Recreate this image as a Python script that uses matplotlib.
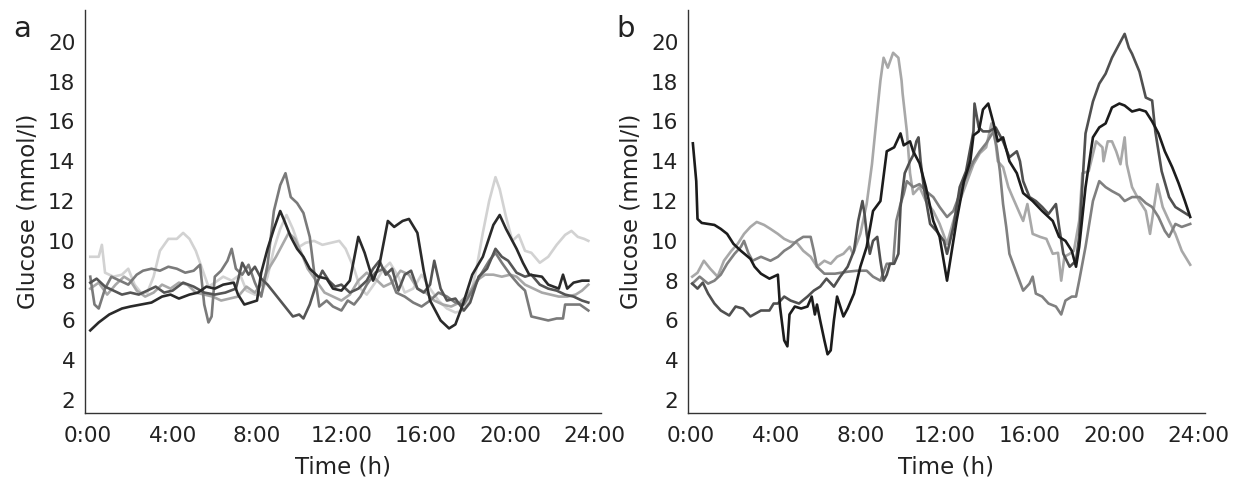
import matplotlib
matplotlib.use("Agg")
import matplotlib.pyplot as plt

# ---- data (time in hours, glucose in mmol/l) ----
hour_ticks = [0, 4, 8, 12, 16, 20, 24]
hour_labels = ["0:00", "4:00", "8:00", "12:00", "16:00", "20:00", "24:00"]
glucose_ticks = [2, 4, 6, 8, 10, 12, 14, 16, 18, 20]

# panel a
a_black_t = [0.1, 0.5, 1.0, 1.6, 2.0, 2.5, 3.0, 3.5, 3.9, 4.3, 4.8, 5.2, 5.6, 6.0, 6.4, 6.9, 7.1, 7.4, 7.7, 8.0,
             8.2, 8.5, 8.8, 9.1, 9.3, 9.6, 9.9, 10.2, 10.5, 10.9, 11.3, 11.6, 12.0, 12.4, 12.8, 13.1, 13.5, 13.8,
             14.2, 14.5, 14.9, 15.2, 15.6, 15.9, 16.2, 16.7, 17.1, 17.4, 17.75, 18.2, 18.7, 19.2, 19.5, 19.8, 20.3,
             20.6, 20.9, 21.5, 21.8, 22.3, 22.5, 22.7, 23.0, 23.4, 23.7]
a_black_v = [5.5, 5.9, 6.3, 6.6, 6.7, 6.8, 6.9, 7.2, 7.3, 7.1, 7.3, 7.4, 7.7, 7.6, 7.8, 7.9, 7.3, 6.8, 6.9, 7.0,
             8.4, 9.6, 10.6, 11.5, 11.0, 10.2, 9.6, 9.2, 8.6, 8.2, 8.1, 7.6, 7.5, 8.0, 10.2, 9.4, 8.0, 8.8,
             11.0, 10.7, 11.0, 11.1, 10.4, 8.5, 7.0, 6.0, 5.6, 5.8, 6.8, 8.3, 9.2, 10.8, 11.3, 10.6, 9.6,
             8.9, 8.3, 8.2, 7.8, 7.6, 8.3, 7.6, 7.9, 8.0, 8.0]

a_dark_t = [0.1, 0.4, 0.8, 1.2, 1.6, 2.0, 2.4, 2.8, 3.2, 3.6, 4.0, 4.5, 5.0, 5.5, 6.0, 6.5, 7.0, 7.3, 7.6, 7.9,
            8.2, 8.5, 8.8, 9.1, 9.4, 9.7, 10.0, 10.2, 10.5, 10.8, 11.1, 11.4, 11.7, 12.0, 12.4, 12.8, 13.2, 13.5,
            13.8, 14.1, 14.4, 14.7, 15.0, 15.3, 15.6, 15.9, 16.2, 16.4, 16.7, 17.0, 17.4, 17.8, 18.1, 18.5, 18.9,
            19.3, 19.6, 19.9, 20.3, 20.7, 21.0, 21.4, 21.8, 22.2, 22.6, 23.0, 23.4, 23.7]
a_dark_v = [7.9, 8.1, 7.7, 7.5, 7.3, 7.4, 7.3, 7.5, 7.7, 7.4, 7.5, 7.9, 7.7, 7.4, 7.3, 7.4, 7.6, 8.9, 8.3, 8.7,
            8.1, 7.8, 7.4, 7.0, 6.6, 6.2, 6.3, 6.1, 6.8, 7.8, 8.5, 8.0, 7.7, 7.8, 7.4, 7.6, 8.0, 8.6,
            9.0, 8.3, 8.6, 7.5, 8.3, 8.5, 7.6, 7.4, 7.8, 9.0, 7.6, 7.0, 7.1, 6.5, 6.9, 8.2, 8.6,
            9.6, 9.2, 9.0, 8.4, 8.2, 8.3, 7.8, 7.6, 7.5, 7.3, 7.2, 7.0, 6.9]

a_mid_t = [0.1, 0.3, 0.5, 0.8, 1.1, 1.5, 1.9, 2.3, 2.6, 3.0, 3.4, 3.8, 4.2, 4.6, 5.0, 5.3, 5.5, 5.7, 5.85, 6.0,
           6.3, 6.6, 6.8, 7.0, 7.3, 7.6, 7.9, 8.2, 8.5, 8.8, 9.1, 9.35, 9.6, 9.9, 10.2, 10.5, 10.7, 10.95, 11.3,
           11.6, 12.0, 12.3, 12.6, 12.9, 13.2, 13.6, 14.0, 14.3, 14.6, 15.0, 15.4, 15.8, 16.2, 16.6, 17.0, 17.4,
           17.8, 18.2, 18.6, 19.0, 19.3, 19.6, 20.0, 20.4, 20.7, 21.0, 21.4, 21.8, 22.2, 22.5, 22.6, 23.0, 23.3, 23.7]
a_mid_v = [8.2, 6.8, 6.6, 7.6, 8.2, 8.0, 7.8, 8.3, 8.5, 8.6, 8.5, 8.7, 8.6, 8.4, 8.5, 8.8, 6.8, 5.9, 6.2, 8.2,
           8.5, 9.0, 9.6, 8.6, 8.3, 8.8, 7.9, 7.2, 8.8, 11.5, 12.8, 13.4, 12.2, 11.9, 11.4, 10.2, 8.5, 6.7, 7.0,
           6.7, 6.5, 7.0, 6.8, 7.2, 7.8, 8.4, 8.6, 8.2, 7.4, 7.2, 6.9, 6.7, 7.0, 7.4, 7.2, 6.9,
           6.8, 7.5, 8.3, 9.0, 9.4, 8.9, 8.3, 7.8, 7.5, 6.2, 6.1, 6.0, 6.1, 6.1, 6.8, 6.8, 6.8, 6.5]

a_light_t = [0.1, 0.5, 0.9, 1.3, 1.7, 2.0, 2.3, 2.7, 3.1, 3.5, 3.9, 4.3, 4.7, 5.1, 5.5, 5.9, 6.3, 6.7, 7.1, 7.5,
             7.9, 8.2, 8.5, 8.9, 9.2, 9.5, 9.8, 10.1, 10.4, 10.8, 11.2, 11.6, 12.0, 12.4, 12.8, 13.2, 13.6, 14.0,
             14.4, 14.8, 15.2, 15.6, 16.0, 16.4, 16.8, 17.2, 17.6, 18.0, 18.4, 18.8, 19.2, 19.6, 20.0, 20.3, 20.7,
             21.1, 21.5, 21.9, 22.3, 22.7, 23.1, 23.4, 23.7]
a_light_v = [7.6, 7.9, 7.3, 7.8, 8.2, 8.0, 7.5, 7.2, 7.4, 7.8, 7.6, 7.9, 7.8, 7.4, 7.3, 7.2, 7.0, 7.1, 7.2, 7.7,
             7.4, 7.8, 8.5, 9.2, 9.8, 10.4, 10.1, 9.4, 8.6, 8.0, 7.4, 7.2, 7.0, 7.3, 8.0, 8.4, 8.1, 7.7,
             7.9, 8.5, 8.3, 7.6, 7.4, 7.0, 6.8, 6.7, 6.9, 7.3, 8.0, 8.3, 8.3, 8.2, 8.3, 8.2, 7.8,
             7.6, 7.4, 7.3, 7.2, 7.2, 7.3, 7.5, 7.8]

a_pale_t = [0.1, 0.5, 0.65, 0.8, 1.2, 1.6, 1.9, 2.2, 2.5, 2.8, 3.1, 3.4, 3.8, 4.2, 4.5, 4.8, 5.1, 5.4, 5.7, 6.0,
            6.4, 6.8, 7.2, 7.5, 7.9, 8.2, 8.5, 8.8, 9.1, 9.4, 9.7, 10.0, 10.3, 10.7, 11.1, 11.5, 11.9, 12.2, 12.6,
            12.9, 13.2, 13.6, 14.0, 14.3, 14.7, 15.0, 15.4, 15.8, 16.2, 16.6, 17.0, 17.4, 17.8, 18.1, 18.4, 18.7,
            19.0, 19.3, 19.5, 19.8, 20.1, 20.4, 20.7, 21.0, 21.4, 21.8, 22.2, 22.6, 22.9, 23.2, 23.5, 23.7]
a_pale_v = [9.2, 9.2, 9.8, 8.4, 8.2, 8.3, 8.6, 7.8, 7.4, 7.4, 8.2, 9.5, 10.1, 10.1, 10.4, 10.1, 9.5, 8.6, 7.7, 7.9,
            8.2, 8.0, 8.3, 7.5, 7.3, 7.3, 8.2, 9.6, 10.6, 11.3, 10.6, 9.7, 9.9, 10.0, 9.8, 9.9, 10.0, 9.6, 8.6,
            7.6, 7.3, 7.9, 8.6, 8.9, 8.2, 7.4, 7.6, 8.3, 7.6, 7.0, 6.6, 6.4, 6.5, 7.2, 8.6, 10.4,
            12.0, 13.2, 12.6, 11.2, 10.0, 10.3, 9.5, 9.4, 8.9, 9.2, 9.8, 10.3, 10.5, 10.2, 10.1, 10.0]

# panel b
b_black_t = [0.08, 0.24, 0.3, 0.5, 0.8, 1.1, 1.4, 1.7, 2.0, 2.35, 2.8, 3.0, 3.3, 3.7, 4.1, 4.2, 4.4, 4.55, 4.65,
             4.9, 5.2, 5.5, 5.7, 5.85, 5.95, 6.1, 6.3, 6.45, 6.6, 6.75, 6.9, 7.2, 7.4, 7.7, 8.0, 8.3, 8.6, 8.95,
             9.25, 9.6, 9.9, 10.05, 10.35, 10.5, 10.8, 11.1, 11.45, 11.75, 12.1, 12.25, 12.55, 12.9, 13.2, 13.35,
             13.6, 13.8, 14.05, 14.3, 14.5, 14.75, 15.05, 15.4, 15.7, 16.15, 16.6, 17.1, 17.4, 17.7, 18.0, 18.2,
             18.35, 18.65, 19.0, 19.3, 19.6, 19.9, 20.25, 20.5, 20.85, 21.2, 21.5, 21.8, 22.1, 22.4, 22.75,
             23.05, 23.35, 23.6]
b_black_v = [14.9, 13.0, 11.1, 10.9, 10.85, 10.8, 10.6, 10.35, 9.85, 9.5, 9.1, 8.7, 8.35, 8.1, 8.3, 6.7, 5.0, 4.7, 6.3,
             6.7, 6.6, 6.7, 7.2, 6.3, 6.8, 6.0, 5.0, 4.3, 4.5, 6.0, 7.2, 6.2, 6.6, 7.35, 8.7, 9.7, 11.5, 12.0,
             14.5, 14.7, 15.4, 14.8, 15.0, 14.5, 13.9, 12.7, 11.0, 10.2, 8.0, 9.0, 11.0, 13.0, 14.0, 15.3,
             15.5, 16.6, 16.9, 15.9, 15.0, 15.2, 14.0, 13.4, 12.4, 12.0, 11.5, 11.0, 10.2, 10.0, 9.5, 8.7,
             9.7, 12.7, 15.2, 15.7, 15.9, 16.7, 16.9, 16.8, 16.5, 16.6, 16.5, 16.0, 15.4, 14.5, 13.7,
             12.9, 12.0, 11.2]

b_dark_t = [0.05, 0.3, 0.55, 0.8, 1.1, 1.4, 1.8, 2.1, 2.45, 2.8, 3.3, 3.7, 3.9, 4.1, 4.4, 4.7, 5.1, 5.5, 5.8, 6.1,
            6.4, 6.75, 7.05, 7.4, 7.7, 7.9, 8.1, 8.2, 8.3, 8.45, 8.6, 8.8, 8.95, 9.1, 9.25, 9.4, 9.6, 9.8, 9.9,
            10.1, 10.35, 10.5, 10.65, 10.75, 10.85, 11.0, 11.3, 11.6, 11.95, 12.1, 12.4, 12.7, 13.0, 13.35, 13.4,
            13.6, 13.8, 14.1, 14.4, 14.75, 15.05, 15.4, 15.55, 15.7, 16.0, 16.3, 16.6, 16.9, 17.25, 17.4, 17.6,
            17.9, 18.2, 18.35, 18.65, 19.0, 19.3, 19.6, 19.9, 20.25, 20.5, 20.7, 20.85, 21.2, 21.5, 21.8, 21.95,
            22.25, 22.6, 22.9, 23.2, 23.5]
b_dark_v = [7.85, 7.6, 7.9, 7.35, 6.85, 6.5, 6.25, 6.7, 6.6, 6.2, 6.5, 6.5, 6.85, 6.85, 7.2, 7.0, 6.85, 7.2, 7.5, 7.7,
            8.1, 7.7, 8.2, 8.7, 9.5, 11.0, 12.0, 11.35, 10.35, 9.35, 10.0, 10.2, 9.0, 8.0, 8.3, 8.85, 8.85, 9.35, 11.7,
            13.4, 14.0, 14.3, 15.0, 15.2, 14.0, 12.7, 10.85, 10.5, 10.0, 9.35, 10.7, 12.7, 13.5, 15.5, 16.9,
            15.7, 15.5, 15.5, 15.7, 15.0, 14.2, 14.5, 14.0, 13.0, 12.2, 12.0, 11.7, 11.35, 11.85, 10.7, 9.35,
            8.7, 9.0, 10.2, 15.4, 17.0, 17.9, 18.4, 19.2, 19.9, 20.4, 19.7, 19.4, 18.5, 17.2, 17.05, 15.5,
            13.5, 12.2, 11.7, 11.5, 11.3]

b_mid_t = [0.05, 0.4, 0.8, 1.1, 1.4, 1.7, 2.05, 2.35, 2.5, 2.7, 2.9, 3.3, 3.75, 4.1, 4.4, 4.7, 5.0, 5.3, 5.65, 5.8,
           5.95, 6.3, 6.8, 7.4, 7.85, 8.3, 8.6, 8.95, 9.25, 9.55, 9.7, 9.9, 10.05, 10.2, 10.5, 10.8, 11.1, 11.45,
           11.75, 12.1, 12.4, 12.7, 13.0, 13.35, 13.65, 13.95, 14.3, 14.45, 14.6, 14.75, 14.9, 15.05, 15.4, 15.7,
           16.0, 16.15, 16.3, 16.6, 16.9, 17.25, 17.5, 17.7, 18.0, 18.2, 18.35, 18.65, 19.0, 19.3, 19.6, 19.9,
           20.25, 20.5, 20.85, 21.2, 21.5, 21.8, 22.1, 22.4, 22.6, 22.9, 23.2, 23.6]
b_mid_v = [7.85, 8.2, 7.85, 8.0, 8.3, 8.85, 9.35, 9.7, 10.0, 9.4, 9.0, 9.2, 9.0, 9.2, 9.5, 9.7, 10.0, 10.2, 10.2, 9.5,
           8.7, 8.35, 8.35, 8.45, 8.5, 8.5, 8.2, 8.0, 8.85, 8.85, 11.0, 11.85, 12.35, 13.0, 12.7, 12.85, 12.5, 12.2,
           11.7, 11.2, 11.5, 12.35, 13.2, 14.0, 14.5, 14.9, 15.5, 14.7, 13.5, 11.85, 10.7, 9.35, 8.35, 7.5,
           7.85, 8.2, 7.35, 7.2, 6.85, 6.7, 6.3, 7.0, 7.2, 7.2, 8.0, 9.7, 12.0, 13.0, 12.7, 12.5,
           12.3, 12.0, 12.2, 12.2, 11.9, 11.7, 11.2, 10.5, 10.2, 10.85, 10.7, 10.85]

b_light_t = [0.05, 0.3, 0.6, 0.9, 1.25, 1.55, 1.9, 2.2, 2.5, 2.8, 3.1, 3.45, 3.75, 4.1, 4.4, 4.7, 5.0, 5.3, 5.65,
             5.95, 6.3, 6.6, 6.9, 7.2, 7.5, 7.65, 8.0, 8.3, 8.55, 8.8, 8.95, 9.1, 9.3, 9.55, 9.8, 9.95, 10.0, 10.2,
             10.35, 10.5, 10.8, 11.1, 11.45, 11.75, 12.1, 12.4, 12.7, 13.0, 13.35, 13.65, 13.95, 14.2, 14.4, 14.5,
             14.75, 15.0, 15.2, 15.55, 15.7, 15.9, 16.15, 16.5, 16.8, 17.1, 17.35, 17.5, 17.65, 17.9, 18.1, 18.35,
             18.5, 18.8, 19.15, 19.45, 19.5, 19.7, 19.9, 20.1, 20.3, 20.5, 20.6, 20.85, 21.2, 21.5, 21.7, 22.05,
             22.3, 22.6, 22.9, 23.2, 23.6]
b_light_v = [8.2, 8.4, 9.0, 8.6, 8.2, 9.0, 9.5, 9.85, 10.35, 10.7, 10.95, 10.8, 10.6, 10.35, 10.1, 9.95, 9.9, 9.5, 9.2,
             8.7, 9.0, 8.85, 9.2, 9.35, 9.7, 9.35, 10.35, 11.85, 13.85, 16.5, 18.05, 19.2, 18.7, 19.45, 19.2, 18.05,
             17.4, 15.5, 13.4, 12.35, 12.7, 12.0, 11.5, 10.85, 9.85, 11.0, 12.0, 12.85, 13.85, 14.4, 14.7, 15.9,
             14.9, 14.0, 13.7, 12.7, 12.2, 11.35, 11.0, 11.85, 10.35, 10.2, 10.1, 9.35, 9.4, 8.0, 9.2, 9.35, 9.5,
             11.0, 13.4, 13.5, 15.0, 14.7, 14.0, 15.0, 15.0, 14.5, 13.85, 15.2, 13.85, 12.7, 12.0, 11.5, 10.35,
             12.85, 11.7, 11.0, 10.35, 9.5, 8.8]


def style_axis(ax, letter, letter_x):
    '''Shared look of both panels: only left and bottom spines, no tick marks'''
    for side in ["top", "right"]:
        ax.spines[side].set_visible(False)
    for side in ["left", "bottom"]:
        ax.spines[side].set_color("#333333")
        ax.spines[side].set_linewidth(1.0)
    ax.set_xlim(-0.15, 24.3)
    ax.set_ylim(1.35, 21.6)
    ax.set_xticks(hour_ticks)
    ax.set_xticklabels(hour_labels)
    ax.set_yticks(glucose_ticks)
    ax.tick_params(length=0, labelsize=15.5, labelcolor="#222222")
    ax.tick_params(axis="x", pad=9)
    ax.tick_params(axis="y", pad=7)
    ax.set_xlabel("Time (h)", fontsize=16.5, color="#222222", labelpad=7)
    ax.set_ylabel("Glucose (mmol/l)", fontsize=16.5, color="#222222", labelpad=6)
    # panel letter
    ax.figure.text(letter_x, 1 - 37 / 484, letter, fontsize=21, color="#222222",
                   ha="center", va="baseline")


fig = plt.figure(figsize=(12.35, 4.84), dpi=100)
ax_a = fig.add_axes([85 / 1235, 71 / 484, 516 / 1235, 403 / 484])
ax_b = fig.add_axes([688 / 1235, 71 / 484, 517 / 1235, 403 / 484])

lw = 1.9
# panel a, light lines first so the dark ones sit on top
ax_a.plot(a_pale_t, a_pale_v, color="#d2d2d2", lw=lw)
ax_a.plot(a_light_t, a_light_v, color="#a8a8a8", lw=lw)
ax_a.plot(a_mid_t, a_mid_v, color="#7a7a7a", lw=lw)
ax_a.plot(a_dark_t, a_dark_v, color="#555555", lw=lw)
ax_a.plot(a_black_t, a_black_v, color="#2a2a2a", lw=lw)

# panel b
ax_b.plot(b_light_t, b_light_v, color="#a8a8a8", lw=lw)
ax_b.plot(b_mid_t, b_mid_v, color="#808080", lw=lw)
ax_b.plot(b_dark_t, b_dark_v, color="#505050", lw=lw)
ax_b.plot(b_black_t, b_black_v, color="#1c1c1c", lw=lw)

style_axis(ax_a, "a", 22 / 1235)
style_axis(ax_b, "b", 626 / 1235)

fig.savefig("out.png", dpi=100)
